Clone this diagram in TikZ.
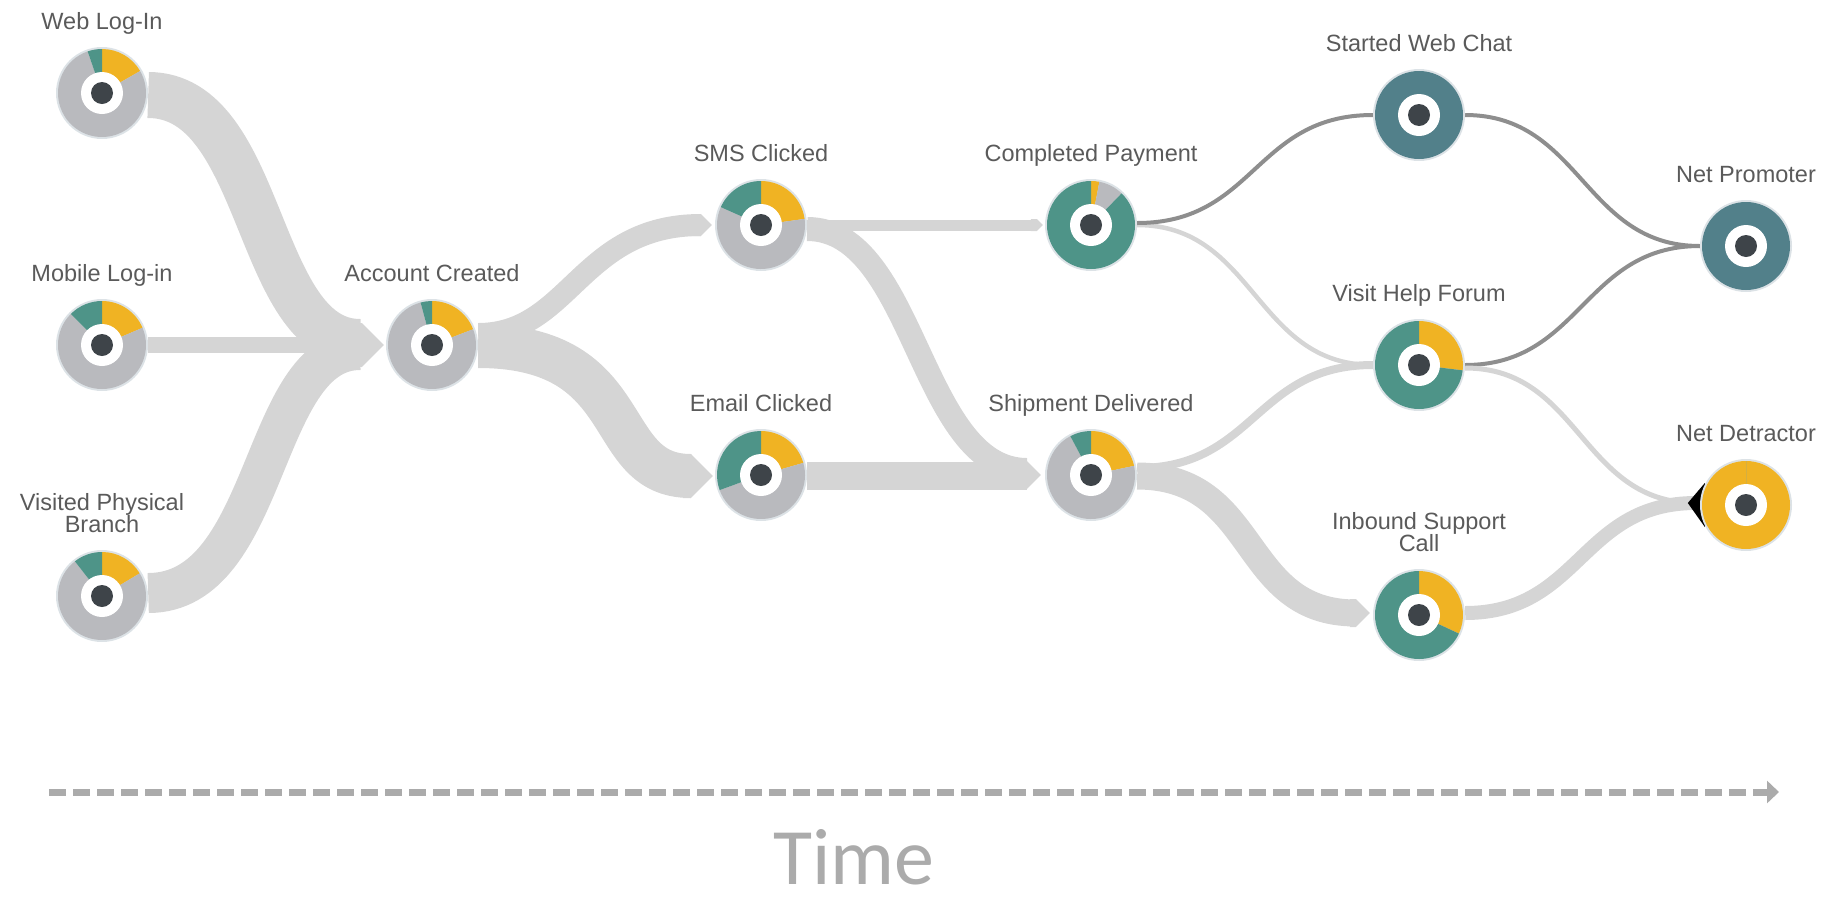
\documentclass[tikz,border=0pt]{standalone}
\usepackage{fontspec}
\setmainfont{Liberation Sans}
\newfontfamily\timefont{Carlito}
\usetikzlibrary{calc,arrows.meta}

\definecolor{flow}{HTML}{D5D5D5}
\definecolor{flowdark}{HTML}{8E8E8E}
\definecolor{segteal}{HTML}{4E9488}
\definecolor{segblue}{HTML}{52808A}
\definecolor{segyellow}{HTML}{F0B323}
\definecolor{seggray}{HTML}{B9BABE}
\definecolor{hub}{HTML}{3E4449}
\definecolor{rim}{HTML}{DCE2E6}
\definecolor{labeltext}{HTML}{5A5A5A}
\definecolor{axisgray}{HTML}{ABABAB}

\pgfdeclarelayer{flows}
\pgfsetlayers{flows,main}

\tikzset{
  band/.style={draw=flow, line cap=butt},
  thinflow/.style={draw=flow, line width=4.5pt},
  darkflow/.style={draw=flowdark, line width=4pt},
  stagelabel/.style={anchor=south, inner sep=0pt, text depth=0pt, align=center,
    text=labeltext, font=\fontsize{23.5}{22.5}\selectfont},
  hubnode/.style={circle, minimum size=92pt, inner sep=0pt},
  timeaxis/.style={draw=axisgray, line width=7pt, dash pattern=on 17pt off 7pt,
    -{Triangle[length=12pt, width=22pt]}},
}

% donut: name, position, end of yellow, end of gray, remaining colour, label
\newcommand\donut[6]{%
  \node[hubnode] (#1) at (#2) {};
  \fill[rim] (#1.center) circle[radius=46pt];
  \fill[segyellow] (#1.center) -- ++(#3:44pt) arc[start angle=#3, end angle=90, radius=44pt] -- cycle;
  \fill[seggray] (#1.center) -- ++(#4:44pt) arc[start angle=#4, end angle=#3, radius=44pt] -- cycle;
  \fill[#5] (#1.center) -- ++(-270:44pt) arc[start angle=-270, end angle=#4, radius=44pt] -- cycle;
  \fill[white] (#1.center) circle[radius=21pt];
  \fill[hub] (#1.center) circle[radius=11pt];
  \node[stagelabel] (#1-label) at ($(#1.center)+(0,63)$) {#6};
}

% pointed end of a flow band: tip, half width, length
\newcommand\chevron[3]{%
  \fill[flow] ($(#1)+(-#3,#2)$) -- ($(#1)+(-#2,#2)$) -- (#1) -- ($(#1)+(-#2,-#2)$) -- ($(#1)+(-#3,-#2)$) -- cycle;
}

\begin{document}
\begin{tikzpicture}[x=1pt, y=1pt]
\useasboundingbox (0,0) rectangle (1828,-903);

% stages
\donut{web}{102,-93}{30}{-251}{segteal}{Web Log-In}
\donut{mob}{102,-345}{23}{-225}{segteal}{Mobile Log-in}
\donut{vpb}{102,-596}{31}{-232}{segteal}{Visited Physical\\Branch}
\donut{ac}{432,-345}{21}{-255}{segteal}{Account Created}
\donut{sms}{761,-225}{8}{-204}{segteal}{SMS Clicked}
\donut{email}{761,-475}{16}{-160}{segteal}{Email Clicked}
\donut{cp}{1091,-225}{79}{46}{segteal}{Completed Payment}
\donut{sd}{1091,-475}{12}{-242}{segteal}{Shipment Delivered}
\donut{swc}{1419,-115}{90}{90}{segblue}{Started Web Chat}
\donut{vhf}{1419,-365}{-7}{-7}{segteal}{Visit Help Forum}
\donut{isc}{1419,-615}{-25}{-25}{segteal}{Inbound Support\\Call}
\donut{np}{1746,-246}{90}{90}{segblue}{Net Promoter}
\donut{nd}{1746,-505}{-270}{-270}{segteal}{Net Detractor}

% entry points of the flows
\coordinate (ac-tip) at ($(ac.west)+(-2,0)$);
\coordinate (sms-tip) at ($(sms.west)+(-3,0)$);
\coordinate (email-tip) at ($(email.west)+(-2,-1)$);
\coordinate (cp-tip) at ($(cp.west)+(-2,0)$);
\coordinate (sd-tip) at ($(sd.west)+(-4,0)$);
\coordinate (isc-tip) at ($(isc.west)+(-3,2)$);
\coordinate (nd-tip) at ($(nd.west)+(-12,2)$);

\begin{pgfonlayer}{flows}
  % into Account Created
  \draw[band, line width=46pt] ($(web.east)+(0,-2)$) .. controls +(117,0) and +(-105,0) .. ($(ac-tip)+(-24,3)$);
  \draw[band, line width=16pt] (mob.east) -- ($(ac-tip)+(-24,0)$);
  \draw[band, line width=40pt] ($(vpb.east)+(0,3)$) .. controls +(122,0) and +(-100,0) .. ($(ac-tip)+(-24,-5)$);
  \chevron{ac-tip}{22}{30}
  % out of Account Created
  \draw[band, line width=22pt] ($(ac.east)+(0,11)$) .. controls +(92,0) and +(-121,0) .. ($(sms-tip)+(-11,0)$);
  \chevron{sms-tip}{11}{20}
  \draw[band, line width=44pt] ($(ac.east)+(0,-1)$) .. controls +(162,0) and +(-91,0) .. ($(email-tip)+(-22,0)$);
  \chevron{email-tip}{22}{30}
  % out of SMS and Email
  \draw[band, line width=11pt] (sms.east) -- ($(cp-tip)+(-6,0)$);
  \chevron{cp-tip}{6}{12}
  \draw[band, line width=24pt] ($(sms.east)+(0,-4)$) .. controls +(108,0) and +(-107,0) .. ($(sd-tip)+(-14,5)$);
  \draw[band, line width=28pt] ($(email.east)+(0,-1)$) -- ($(sd-tip)+(-14,-1)$);
  \chevron{sd-tip}{14}{20}
  % out of Completed Payment and Shipment Delivered
  \draw[thinflow] (cp.east) .. controls +(118,0) and +(-118,0) .. (vhf.west);
  \draw[band, line width=8pt] ($(sd.east)+(0,7)$) .. controls +(118,0) and +(-118,0) .. (vhf.west);
  \draw[darkflow] ($(cp.east)+(0,2)$) .. controls +(118,0) and +(-118,0) .. (swc.west);
  \draw[band, line width=27pt] ($(sd.east)+(0,-1)$) .. controls +(123,0) and +(-117,0) .. ($(isc-tip)+(-14,0)$);
  \chevron{isc-tip}{14}{20}
  % towards the outcomes
  \draw[darkflow] (swc.east) .. controls +(116,0) and +(-116,0) .. (np.west);
  \draw[darkflow] (vhf.east) .. controls +(116,0) and +(-116,0) .. (np.west);
  \draw[band, line width=5pt] ($(vhf.east)+(0,-3)$) .. controls +(115,0) and +(-115,0) .. ($(nd-tip)+(8,0)$);
  \draw[band, line width=14pt] ($(isc.east)+(0,2)$) .. controls +(115,0) and +(-115,0) .. ($(nd-tip)+(8,0)$);
  \fill[black] (nd-tip) -- ($(nd-tip)+(17,20)$) -- ($(nd-tip)+(17,-24)$) -- cycle;
\end{pgfonlayer}

% time axis
\coordinate (axis-start) at (49,-792);
\coordinate (axis-end) at (1779,-792);
\draw[timeaxis] (axis-start) -- (axis-end);
\node[anchor=base, inner sep=0pt, text depth=0pt, text=axisgray, font=\timefont\fontsize{80}{80}\selectfont] (timelabel) at (854,-884) {Time};
\end{tikzpicture}
\end{document}
